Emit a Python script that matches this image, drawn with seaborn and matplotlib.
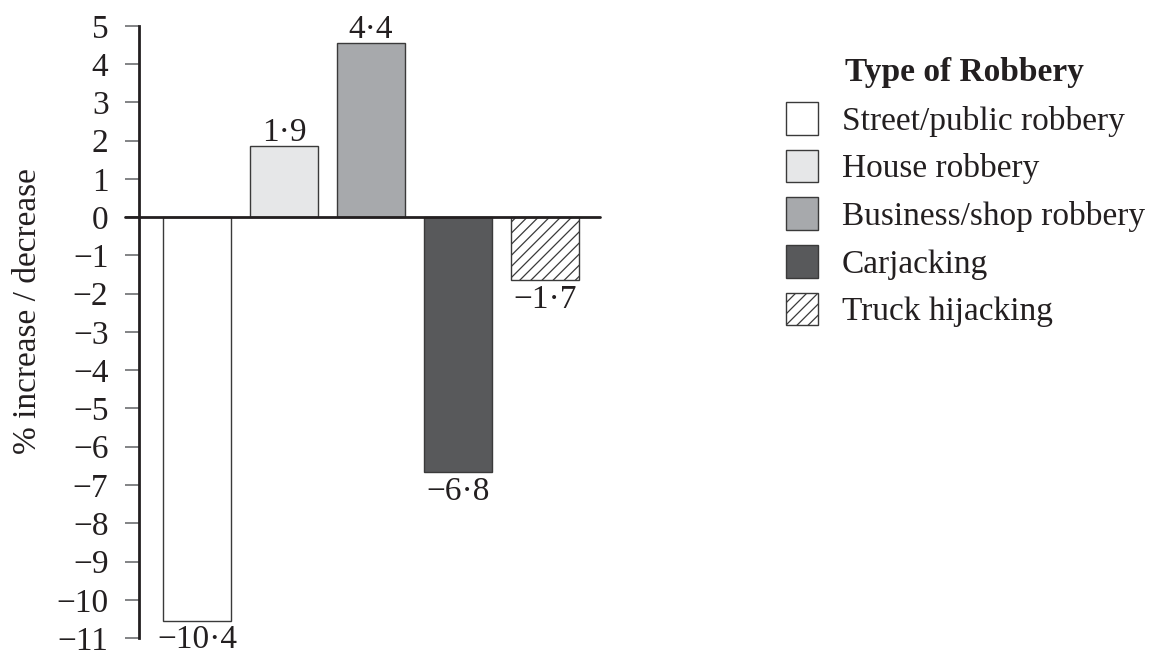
import matplotlib
matplotlib.use("Agg")
import matplotlib.pyplot as plt
import seaborn as sns
import pandas as pd
from matplotlib.patches import Patch

# data
categories = ["Street/public robbery", "House robbery", "Business/shop robbery",
              "Carjacking", "Truck hijacking"]
bar_heights = [-10.55, 1.85, 4.55, -6.67, -1.65]
value_labels = ["\u221210\u00b74", "1\u00b79", "4\u00b74", "\u22126\u00b78", "\u22121\u00b77"]
bar_colors = ["#ffffff", "#e6e7e8", "#a7a9ac", "#58595b", "#ffffff"]
bar_hatches = ["", "", "", "", "///"]
y_ticks = list(range(-11, 6))

FS = 24
INK = "#231f20"

sns.set_style("ticks")
plt.rcParams['font.family'] = ['Liberation Serif', 'DejaVu Serif']
plt.rcParams['hatch.linewidth'] = 0.9
plt.rcParams['hatch.color'] = '#3a3a3a'

df = pd.DataFrame({"type": categories, "change": bar_heights})

fig = plt.figure(figsize=(11.7, 6.57), dpi=100)
ax = fig.add_axes([139 / 1170, 1 - 638 / 657, 461 / 1170, 612 / 657])

sns.barplot(data=df, x="type", y="change", hue="type", palette=bar_colors,
            legend=False, width=0.78, edgecolor="#3a3a3a", linewidth=1.0,
            saturation=1, ax=ax)

for patch, hatch in zip(ax.patches, bar_hatches):
    patch.set_hatch(hatch)

# value labels above / below each bar
for patch, txt, h in zip(ax.patches, value_labels, bar_heights):
    xc = patch.get_x() + patch.get_width() / 2
    if h >= 0:
        ax.annotate(txt, (xc, h), xytext=(0, -1), textcoords="offset points",
                    ha="center", va="bottom", fontsize=FS, color=INK)
    else:
        ax.annotate(txt, (xc, h), xytext=(0, -3), textcoords="offset points",
                    ha="center", va="top", fontsize=FS, color=INK)

ax.set_ylim(-11, 5)
ax.set_xlim(-0.667, 4.63)
ax.set_yticks(y_ticks)
ax.set_yticklabels([str(t).replace("-", "\u2212") for t in y_ticks])
ax.tick_params(axis="y", length=10, width=1.2, color="#6d6e71", pad=12,
               labelsize=FS, labelcolor=INK)
ax.tick_params(axis="x", bottom=False, labelbottom=False)
ax.set_xlabel("")
ax.set_ylabel("")
for side in ["top", "right", "bottom"]:
    ax.spines[side].set_visible(False)
ax.spines["left"].set_linewidth(2)
ax.spines["left"].set_color(INK)

# zero line reaching out over the 0 tick
ax.axhline(0, xmin=-0.03, xmax=1, color=INK, lw=2, clip_on=False, zorder=5)

fig.text(28 / 1170, 1 - 311 / 657, "% increase / decrease", rotation=90,
         ha="center", va="center", fontsize=FS, color=INK)

# legend
handles = [Patch(facecolor=c, edgecolor="#3a3a3a", hatch=hh, linewidth=1.0)
           for c, hh in zip(bar_colors, bar_hatches)]
fig.legend(handles, categories, loc="upper left",
           bbox_to_anchor=(786 / 1170, 1 - 102 / 657), frameon=False,
           fontsize=FS, handlelength=0.96, handleheight=1.13,
           handletextpad=0.72, labelspacing=0.39, borderpad=0, borderaxespad=0,
           labelcolor=INK)
fig.text(845 / 1170, 1 - 72 / 657, "Type of Robbery", ha="left", va="center",
         fontsize=FS, fontweight="bold", color=INK)

fig.savefig("out.png", dpi=100)
